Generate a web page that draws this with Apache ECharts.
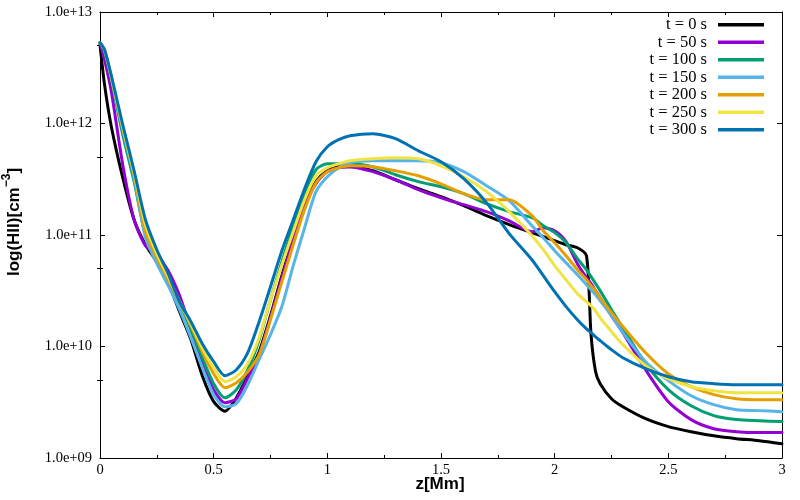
<!DOCTYPE html>
<html><head><meta charset="utf-8">
<script src="https://cdn.jsdelivr.net/npm/echarts@6/dist/echarts.min.js"></script>
<style>html,body{margin:0;padding:0;background:#fff}#c{width:800px;height:500px}</style>
</head><body><div id="c"></div>
<script>
// z positions [Mm]
const z = [0,0.02,0.05,0.1,0.15,0.2,0.25,0.3,0.35,0.4,0.45,0.5,0.55,0.6,0.65,0.7,0.75,0.8,0.85,0.9,0.95,1.0,1.05,1.1,1.2,1.3,1.4,1.5,1.6,1.7,1.8,1.9,1.95,2.0,2.05,2.1,2.14,2.16,2.18,2.2,2.25,2.3,2.4,2.5,2.6,2.7,2.8,2.9,3.0];

const seriesNames = ['t = 0 s','t = 50 s','t = 100 s','t = 150 s','t = 200 s','t = 250 s','t = 300 s'];
const seriesColors = ['#000000','#9400d3','#009e73','#56b4e9','#e69f00','#f0e442','#0072b2'];

const t0 = [5.1e12,2.23e12,9.36e11,3.27e11,1.37e11,8.18e10,5.76e10,3.73e10,2.05e10,1.15e10,
  5.47e9,3.20e9,2.63e9,3.47e9,5.47e9,8.98e9,1.89e10,4.32e10,9.46e10,1.91e11,
  3.01e11,3.77e11,4.10e11,4.10e11,3.77e11,3.13e11,2.60e11,2.21e11,1.83e11,1.49e11,
  1.24e11,1.05e11,9.66e10,8.89e10,8.18e10,7.69e10,6.52e10,1.28e10,5.94e9,4.64e9,
  3.40e9,2.88e9,2.25e9,1.91e9,1.72e9,1.58e9,1.49e9,1.43e9,1.34e9];
const t50 = [5.31e12,3.73e12,1.93e12,4.27e11,1.37e11,8.02e10,6.66e10,4.79e10,2.86e10,1.42e10,
  7.31e9,4.10e9,3.13e9,3.40e9,5.25e9,8.44e9,1.81e10,4.14e10,9.07e10,1.83e11,
  2.88e11,3.70e11,4.01e11,4.10e11,3.70e11,3.13e11,2.55e11,2.16e11,1.87e11,1.62e11,
  1.34e11,1.07e11,1.16e11,1.09e11,8.71e10,5.53e10,4.14e10,3.66e10,3.17e10,2.74e10,
  1.89e10,1.33e10,6.19e9,3.20e9,2.21e9,1.83e9,1.72e9,1.69e9,1.69e9];
const t100 = [5.31e12,4.40e12,2.47e12,7.93e11,3.01e11,1.01e11,6.26e10,3.97e10,2.47e10,1.42e10,
  7.93e9,4.64e9,3.47e9,4.10e9,6.19e9,1.15e10,2.63e10,5.76e10,1.21e11,2.40e11,
  3.85e11,4.36e11,4.36e11,4.36e11,4.10e11,3.47e11,3.01e11,2.71e11,2.35e11,1.91e11,
  1.62e11,1.43e11,1.21e11,1.05e11,8.53e10,6.13e10,4.88e10,4.23e10,3.66e10,3.17e10,
  2.14e10,1.47e10,7.01e9,4.10e9,2.94e9,2.40e9,2.21e9,2.16e9,2.12e9];
const t150 = [5.31e12,4.59e12,2.58e12,8.80e11,3.27e11,9.46e10,5.53e10,3.51e10,2.14e10,1.20e10,
  6.45e9,3.70e9,2.88e9,3.07e9,4.54e9,7.61e9,1.28e10,2.28e10,5.31e10,1.16e11,
  2.45e11,3.33e11,4.01e11,4.45e11,4.64e11,4.64e11,4.64e11,4.45e11,3.70e11,2.77e11,
  2.03e11,1.21e11,9.46e10,7.23e10,5.64e10,4.40e10,3.58e10,3.23e10,2.91e10,2.58e10,
  1.89e10,1.33e10,7.31e9,4.94e9,3.62e9,3.01e9,2.71e9,2.66e9,2.60e9];
const t200 = [5.31e12,4.59e12,2.58e12,9.17e11,3.47e11,1.07e11,6.26e10,3.97e10,2.52e10,1.54e10,
  8.98e9,5.70e9,4.27e9,4.73e9,5.94e9,8.44e9,1.74e10,3.81e10,8.18e10,1.69e11,
  2.94e11,3.70e11,4.01e11,4.18e11,4.10e11,3.77e11,3.40e11,2.88e11,2.35e11,2.07e11,
  2.07e11,1.49e11,1.09e11,8.53e10,6.52e10,4.88e10,3.97e10,3.51e10,3.17e10,2.74e10,
  2.01e10,1.51e10,8.80e9,5.70e9,4.36e9,3.70e9,3.40e9,3.33e9,3.33e9];
const t250 = [5.31e12,4.59e12,2.63e12,9.36e11,3.62e11,1.24e11,6.80e10,4.23e10,2.52e10,1.60e10,
  9.75e9,6.45e9,4.83e9,5.36e9,7.01e9,1.20e10,2.63e10,5.42e10,1.07e11,2.07e11,
  3.40e11,4.01e11,4.36e11,4.64e11,4.83e11,4.94e11,4.83e11,4.18e11,3.33e11,2.45e11,
  1.62e11,9.86e10,7.38e10,5.31e10,3.97e10,2.98e10,2.52e10,2.32e10,2.09e10,1.81e10,
  1.36e10,1.04e10,6.73e9,5.14e9,4.36e9,4.01e9,3.85e9,3.85e9,3.85e9];
const t300 = [5.31e12,4.59e12,2.68e12,9.75e11,3.77e11,1.37e11,7.38e10,4.50e10,2.52e10,1.67e10,
  1.06e10,7.31e9,5.47e9,6.19e9,8.80e9,1.67e10,3.44e10,7.23e10,1.37e11,2.60e11,
  4.54e11,6.19e11,7.16e11,7.77e11,8.10e11,7.31e11,5.70e11,4.54e11,3.20e11,1.95e11,
  1.03e11,6.00e10,4.32e10,3.10e10,2.28e10,1.74e10,1.44e10,1.33e10,1.22e10,1.13e10,
  9.36e9,7.93e9,6.32e9,5.36e9,4.83e9,4.64e9,4.54e9,4.54e9,4.54e9];

const yTickLabels = ['1.0e+09','1.0e+10','1.0e+11','1.0e+12','1.0e+13'];
const yMinorTicks = [5e9,5e10,5e11,5e12];

const seriesValues = [t0,t50,t100,t150,t200,t250,t300];

const serif = 'Liberation Serif';
const sans = 'Liberation Sans';
const blackLine = {color:'#000', width:1};

const xCommon = {
  type:'value', min:0, max:3, interval:0.5,
  splitLine:{show:false}, minorSplitLine:{show:false},
  axisLine:{show:true, onZero:false, lineStyle:blackLine},
  axisTick:{show:true, inside:true, length:5, lineStyle:blackLine},
  minorTick:{show:true, splitNumber:2, length:3, lineStyle:blackLine}
};
const yCommon = {
  type:'log', logBase:10, min:1e9, max:1e13,
  splitLine:{show:false}, minorSplitLine:{show:false},
  axisLine:{show:true, onZero:false, lineStyle:blackLine},
  axisTick:{show:true, inside:true, length:5, lineStyle:blackLine}
};

const chart = echarts.init(document.getElementById('c'), null, {renderer:'canvas'});
chart.setOption({
  animation:false,
  backgroundColor:'#ffffff',
  grid:{left:100, right:18, top:12, bottom:42},
  xAxis:[
    Object.assign({}, xCommon, {position:'bottom',
      axisLabel:{fontFamily:serif, fontSize:14.5, color:'#000', margin:5}}),
    Object.assign({}, xCommon, {position:'top', axisLabel:{show:false}})
  ],
  yAxis:[
    Object.assign({}, yCommon, {position:'left',
      axisLabel:{fontFamily:serif, fontSize:14.5, color:'#000', margin:8,
        formatter:function(v){ return yTickLabels[Math.round(Math.log10(v)) - 9]; }}}),
    Object.assign({}, yCommon, {position:'right', axisLabel:{show:false}}),
    Object.assign({}, yCommon, {position:'left', axisLine:{show:false}, axisLabel:{show:false},
      axisTick:{show:true, inside:true, length:3, lineStyle:blackLine, customValues:yMinorTicks}}),
    Object.assign({}, yCommon, {position:'right', axisLine:{show:false}, axisLabel:{show:false},
      axisTick:{show:true, inside:true, length:3, lineStyle:blackLine, customValues:yMinorTicks}})
  ],
  legend:{
    orient:'vertical', right:36, top:16, align:'right', icon:'rect',
    itemWidth:46, itemHeight:3.5, itemGap:0, padding:0,
    textStyle:{fontFamily:serif, fontSize:16.5, color:'#000', lineHeight:17.5, padding:[0,6,0,0]},
    data:seriesNames
  },
  graphic:[
    {type:'text', x:440, y:484, silent:true,
      style:{text:'z[Mm]', font:'bold 17px "Liberation Sans"', fill:'#000', align:'center', verticalAlign:'middle'}},
    {type:'text', x:12, y:222, rotation:Math.PI/2, silent:true,
      style:{text:'{a|log(HII)[cm}{b|\u22123}{a|]}', align:'center', verticalAlign:'middle',
        rich:{a:{fontFamily:sans, fontWeight:'bold', fontSize:17, lineHeight:22, fill:'#000', verticalAlign:'bottom'},
              b:{fontFamily:sans, fontWeight:'bold', fontSize:12, lineHeight:22, fill:'#000', verticalAlign:'top'}}}}
  ],
  series: seriesNames.map(function(name, i){
    return {
      name:name, type:'line', xAxisIndex:0, yAxisIndex:0,
      data: z.map(function(x, j){ return [x, seriesValues[i][j]]; }),
      showSymbol:false, symbol:'none', smooth:0.25,
      lineStyle:{width:3, color:seriesColors[i], join:'round', cap:'round'},
      itemStyle:{color:seriesColors[i]},
      z:2+i
    };
  })
});
</script>
</body></html>
